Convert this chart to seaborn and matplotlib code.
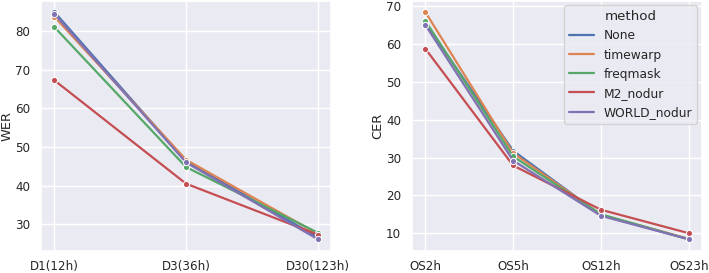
import pandas as pd
import matplotlib
matplotlib.use("Agg")
import matplotlib.pyplot as plt
import seaborn as sns

methods = ["None", "timewarp", "freqmask", "M2_nodur", "WORLD_nodur"]

# WER per dataset size
wer_sets = ["D1(12h)", "D3(36h)", "D30(123h)"]
wer_none = [85.0, 46.3, 26.6]
wer_timewarp = [83.8, 46.7, 27.5]
wer_freqmask = [81.1, 44.8, 27.8]
wer_m2 = [67.3, 40.5, 27.3]
wer_world = [84.5, 46.0, 26.1]

# CER per dataset size
cer_sets = ["OS2h", "OS5h", "OS12h", "OS23h"]
cer_none = [65.6, 31.8, 14.8, 8.4]
cer_timewarp = [68.5, 31.2, 14.9, 8.5]
cer_freqmask = [66.2, 30.3, 15.0, 8.4]
cer_m2 = [58.8, 27.9, 16.2, 10.0]
cer_world = [65.1, 29.2, 14.6, 8.4]


def to_long(sets, series, metric):
    rows = []
    for m, vals in zip(methods, series):
        for s, v in zip(sets, vals):
            rows.append({"set": s, "method": m, metric: v})
    return pd.DataFrame(rows)


wer_df = to_long(wer_sets, [wer_none, wer_timewarp, wer_freqmask, wer_m2, wer_world], "WER")
cer_df = to_long(cer_sets, [cer_none, cer_timewarp, cer_freqmask, cer_m2, cer_world], "CER")

sns.set_theme(style="darkgrid", font_scale=0.78)

fig, (ax1, ax2) = plt.subplots(1, 2, figsize=(7.09, 2.73), dpi=100)
fig.subplots_adjust(left=0.058, right=0.99, bottom=0.082, top=0.998, wspace=0.28)

sns.lineplot(data=wer_df, x="set", y="WER", hue="method", marker="o",
             markersize=4.5, linewidth=1.6, ax=ax1, legend=False)
sns.lineplot(data=cer_df, x="set", y="CER", hue="method", marker="o",
             markersize=4.5, linewidth=1.6, ax=ax2)

for ax in (ax1, ax2):
    ax.set_xlabel("")
    ax.tick_params(axis="x", pad=1)
    ax.tick_params(axis="y", pad=2)
    ax.yaxis.labelpad = 1

sns.move_legend(ax2, "upper right", title="method", fontsize=8.8,
                title_fontsize=9.6, borderaxespad=0.4)
for line in ax2.get_legend().get_lines():
    line.set_marker("")

fig.savefig("out.png", dpi=100)
